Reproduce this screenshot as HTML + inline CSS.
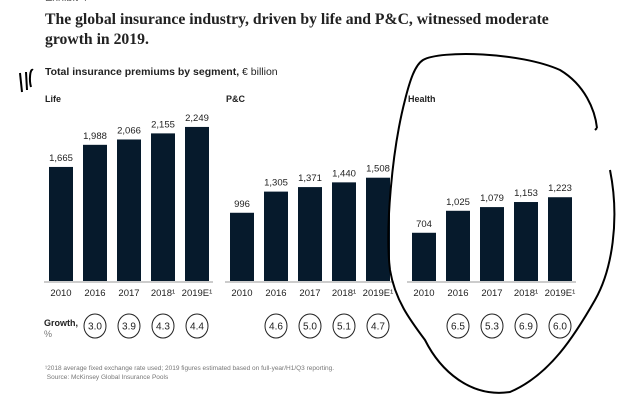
<!DOCTYPE html>
<html><head><meta charset="utf-8">
<style>
body{margin:0;background:#fff;width:631px;height:407px;overflow:hidden;position:relative;font-family:"Liberation Sans",sans-serif;color:#222}
.abs{position:absolute;white-space:nowrap}
</style></head><body>
<div class="abs" style="left:45px;top:-8px;font-size:11px;color:#666">Exhibit 4</div>
<div class="abs" style="left:45px;top:10px;font-family:'Liberation Serif',serif;font-weight:bold;font-size:15.7px;line-height:20px;color:#222">The global insurance industry, driven by life and P&amp;C, witnessed moderate<br>growth in 2019.</div>
<div class="abs" style="left:45px;top:66px;font-size:10.5px"><b>Total insurance premiums by segment,</b> € billion</div>
<svg id="chart" width="631" height="407" style="position:absolute;left:0;top:0"></svg>
<div class="abs" style="left:45px;top:364px;font-size:6.5px;color:#777;line-height:9px">¹2018 average fixed exchange rate used; 2019 figures estimated based on full-year/H1/Q3 reporting.<br>&nbsp;Source: McKinsey Global Insurance Pools</div>
<script>
const years=["2010","2016","2017","2018¹","2019E¹"];
const segments=["Life","P&C","Health"];
const lifeValues=[1665,1988,2066,2155,2249];
const pcValues=[996,1305,1371,1440,1508];
const healthValues=[704,1025,1079,1153,1223];
const lifeGrowth=["3.0","3.9","4.3","4.4"];
const pcGrowth=["4.6","5.0","5.1","4.7"];
const healthGrowth=["6.5","5.3","6.9","6.0"];
const series=[lifeValues,pcValues,healthValues];
const growth=[lifeGrowth,pcGrowth,healthGrowth];
const NS="http://www.w3.org/2000/svg";
const svg=document.getElementById('chart');
const baseY=281, scale=0.0685, groupX=[49,230,412], step=34, bw=24;
function y(v){return baseY-v*scale;}
function x(g,i){return groupX[g]+i*step;}
function mk(tag,attrs,txt){const e=document.createElementNS(NS,tag);for(const k in attrs)e.setAttribute(k,attrs[k]);if(txt!==undefined)e.textContent=txt;svg.appendChild(e);return e;}
segments.forEach((s,g)=>{
  const t=mk('text',{x:groupX[g]-4,y:102,'font-size':9,'font-weight':'bold',fill:'#222'},s);
  
  
  const ax=mk('line',{x1:groupX[g]-5,x2:groupX[g]+4*step+bw+4,y1:baseY+1,y2:baseY+1,stroke:'#999','stroke-width':1});
  
  
  series[g].forEach((v,i)=>{
    const r=mk('rect',{x:x(g,i),y:y(v),width:bw,height:baseY-y(v),fill:'#061a2c'});
    
    
    const l=mk('text',{x:x(g,i)+bw/2,y:y(v)-6,'font-size':9.5,'text-anchor':'middle',fill:'#222'},v.toLocaleString('en-US'));
    
    
    const yl=mk('text',{x:x(g,i)+bw/2,y:296,'font-size':9.5,'text-anchor':'middle',fill:'#222'},years[i]);
    
    
  });
  growth[g].forEach((v,i)=>{
    const cx=x(g,i+1)+bw/2;
    const c=mk('ellipse',{cx:cx,cy:326,rx:11,ry:12,fill:'none',stroke:'#222','stroke-width':1});
    
    
    const gt=mk('text',{x:cx,y:329.5,'font-size':10,'text-anchor':'middle',fill:'#222'},v);
    
    
  });
});
const gl=mk('text',{x:44,y:326,'font-size':9,'font-weight':'bold',fill:'#222'},'Growth,');


const gp=mk('text',{x:44,y:337,'font-size':9,fill:'#777'},'%');


const d1=mk('path',{d:'M423 60 C440 50 520 52 560 70 C585 85 595 110 597 128 M597 128 L595 130 M610 170 C620 220 612 270 595 300 C575 335 550 375 510 392 C470 398 440 370 425 340 C410 320 395 300 390 270 C385 230 392 150 405 100 C410 80 415 65 423 60',fill:'none',stroke:'#000','stroke-width':2});


const d2=mk('path',{d:'M20 73 L22 92 M26 72 L27 90 M33 70 C30 68 29 80 31 87',fill:'none',stroke:'#000','stroke-width':2});


</script>
</body></html>
